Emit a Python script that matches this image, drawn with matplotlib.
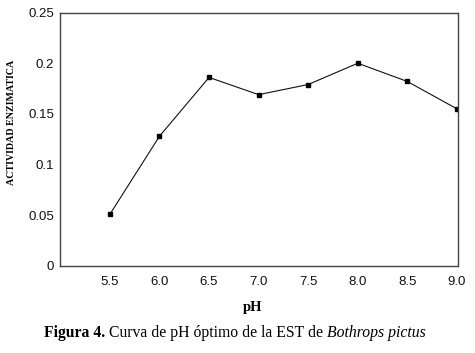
import matplotlib
matplotlib.use('Agg')
import matplotlib.pyplot as plt

# pH values and measured enzymatic activity
ph_labels = ['5.5', '6.0', '6.5', '7.0', '7.5', '8.0', '8.5', '9.0']
ph_values = [5.5, 6.0, 6.5, 7.0, 7.5, 8.0, 8.5, 9.0]
activity = [0.051, 0.128, 0.186, 0.169, 0.179, 0.200, 0.182, 0.155]
y_ticks = [0, 0.05, 0.1, 0.15, 0.2, 0.25]
y_tick_labels = ['0', '0.05', '0.1', '0.15', '0.2', '0.25']

fig = plt.figure(figsize=(4.75, 3.53), dpi=100)
ax = fig.add_axes([0.126, 0.2465, 0.838, 0.718])

ax.plot(ph_values, activity, color='#111111', linewidth=0.8,
        marker='s', markersize=3.5, markerfacecolor='black', markeredgecolor='black')

ax.set_xlim(4.995, 9.01)
ax.set_ylim(0, 0.25)
ax.set_xticks(ph_values)
ax.set_xticklabels(ph_labels, fontfamily='Liberation Sans', fontsize=9.5)
ax.set_yticks(y_ticks)
ax.set_yticklabels(y_tick_labels, fontfamily='Liberation Sans', fontsize=9.5)
ax.tick_params(axis='both', length=0, colors='#111111')
ax.tick_params(axis='x', pad=7)
ax.tick_params(axis='y', pad=4)

for sp in ax.spines.values():
    sp.set_color('#444444')
    sp.set_linewidth(1.0)

fig.text(12 / 475, 1 - 122 / 353, 'ACTIVIDAD ENZIMATICA', rotation=90,
         ha='center', va='center', fontfamily='Liberation Serif',
         fontweight='bold', fontsize=7.2)
fig.text(253 / 475, 1 - 308 / 353, 'pH', ha='center', va='center',
         fontfamily='Liberation Serif', fontweight='bold', fontsize=10.5)

# caption built from three pieces: bold, regular, italic
fig.canvas.draw()
renderer = fig.canvas.get_renderer()
cap_y = 1 - 333 / 353
cap_size = 11.3
parts = [('Figura 4. ', 'bold', 'normal'),
         ('Curva de pH óptimo de la EST de ', 'normal', 'normal'),
         ('Bothrops pictus', 'normal', 'italic')]
texts = []
for s, w, st in parts:
    t = fig.text(0, cap_y, s, ha='left', va='center', fontfamily='Liberation Serif',
                 fontsize=cap_size, fontweight=w, fontstyle=st)
    texts.append(t)
widths = [t.get_window_extent(renderer).width for t in texts]
total = sum(widths)
pos = 235 - total / 2
for t, wd in zip(texts, widths):
    t.set_x(pos / 475)
    pos += wd

fig.savefig('out.png', dpi=100)
